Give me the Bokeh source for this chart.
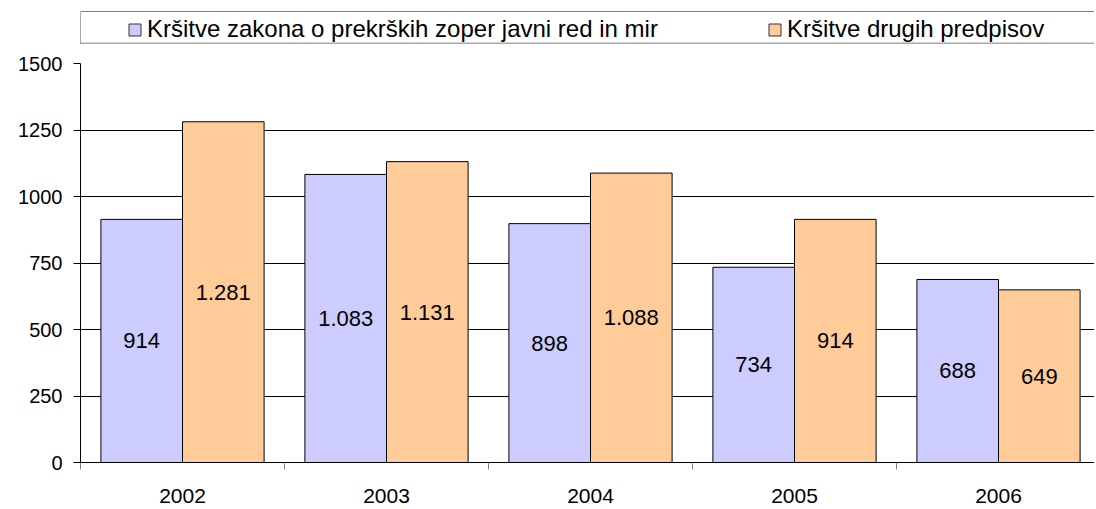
import numpy as np
from bokeh.plotting import figure
from bokeh.models import (ColumnDataSource, Range1d, FixedTicker, Legend, LegendItem, Span)
from bokeh.layouts import column
from bokeh.transform import dodge
from bokeh.core.properties import value
from bokeh.embed import file_html
from bokeh.resources import INLINE

# ---- data ----
years = ["2002", "2003", "2004", "2005", "2006"]
zakon = [914, 1083, 898, 734, 688]
drugi = [1281, 1131, 1088, 914, 649]
series_names = ["Kršitve zakona o prekrških zoper javni red in mir",
                "Kršitve drugih predpisov"]
colors = ["#CCCCFF", "#FFCC99"]
y_ticks = [0, 250, 500, 750, 1000, 1250, 1500]

FONT = "Liberation Sans"
W = 1094

def fmt(v):
    return f"{v:,}".replace(",", ".")

pos = list(np.arange(len(years)) + 0.5)
src = ColumnDataSource(dict(
    x=pos, zakon=zakon, drugi=drugi,
    zakon_mid=[v / 2 for v in zakon], drugi_mid=[v / 2 for v in drugi],
    zakon_lbl=[fmt(v) for v in zakon], drugi_lbl=[fmt(v) for v in drugi],
))

# ---- legend strip (top) ----
top = figure(width=W, height=48, output_backend="svg", toolbar_location=None,
             x_range=Range1d(0, 1), y_range=Range1d(0, 1),
             x_axis_type=None, y_axis_type=None,
             min_border_left=72, min_border_right=0, min_border_top=11, min_border_bottom=5)
top.grid.visible = False
top.outline_line_color = None
top.background_fill_color = "white"
# legend swatches only (kept outside the visible range)
hidden = ColumnDataSource(dict(x=[-5], top=[0]))
r1 = top.vbar(x="x", top="top", width=0.1, source=hidden,
              fill_color=colors[0], line_color="#333333")
r2 = top.vbar(x="x", top="top", width=0.1, source=hidden,
              fill_color=colors[1], line_color="#333333")
top.add_layout(Span(location=1, dimension="width", line_color="black", line_width=1))
top.add_layout(Span(location=0, dimension="width", line_color="#555555", line_width=1.5))
top.add_layout(Span(location=0, dimension="height", line_color="#555555", line_width=1))
legend = Legend(items=[LegendItem(label=series_names[0], renderers=[r1]),
                       LegendItem(label=series_names[1], renderers=[r2])],
                orientation="horizontal", location=(47, 0),
                border_line_color=None, background_fill_alpha=0,
                padding=0, margin=0, spacing=109,
                glyph_width=15, glyph_height=15, label_standoff=5,
                label_text_font=FONT, label_text_font_size="24px",
                label_text_color="black")
top.add_layout(legend, "center")

# ---- main chart ----
p = figure(width=W, height=457, output_backend="svg", toolbar_location=None,
           x_range=Range1d(0, (W - 80) / 204), y_range=Range1d(0, 1500),
           min_border_left=80, min_border_right=0, min_border_top=15, min_border_bottom=42)
p.outline_line_color = None
p.background_fill_color = "white"

p.vbar(x=dodge("x", -0.2), top="zakon", width=0.4, source=src,
       fill_color=colors[0], line_color="black", line_width=1)
p.vbar(x=dodge("x", 0.2), top="drugi", width=0.4, source=src,
       fill_color=colors[1], line_color="black", line_width=1)

p.text(x=dodge("x", -0.2), y="zakon_mid", text="zakon_lbl", source=src,
       text_align="center", text_baseline="middle",
       text_font=value(FONT), text_font_size=value("22px"), text_color="black")
p.text(x=dodge("x", 0.2), y="drugi_mid", text="drugi_lbl", source=src,
       text_align="center", text_baseline="middle",
       text_font=value(FONT), text_font_size=value("22px"), text_color="black")

# y axis
p.yaxis.ticker = FixedTicker(ticks=y_ticks)
p.yaxis.axis_line_color = "black"
p.yaxis.major_tick_line_color = "black"
p.yaxis.major_tick_out = 7
p.yaxis.major_tick_in = 0
p.yaxis.minor_tick_line_color = None
p.yaxis.major_label_text_font = FONT
p.yaxis.major_label_text_font_size = "20px"
p.yaxis.major_label_text_color = "black"
p.yaxis.major_label_standoff = 11

# x axis
p.xaxis.ticker = FixedTicker(ticks=pos, minor_ticks=list(range(len(years) + 1)))
p.xaxis.major_label_overrides = {float(x): y for x, y in zip(pos, years)}
p.xaxis.axis_line_color = "black"
p.xaxis.major_tick_line_color = None
p.xaxis.major_tick_out = 0
p.xaxis.major_tick_in = 0
p.xaxis.minor_tick_line_color = "#808080"
p.xaxis.minor_tick_out = 7
p.xaxis.minor_tick_in = 0
p.xaxis.major_label_text_font = FONT
p.xaxis.major_label_text_font_size = "21px"
p.xaxis.major_label_text_color = "black"
p.xaxis.major_label_standoff = 19

# grid
p.xgrid.visible = False
p.ygrid.grid_line_color = "black"
p.ygrid.grid_line_width = 1
p.ygrid.ticker = FixedTicker(ticks=y_ticks)

layout = column(top, p, spacing=0)
open("out.html", "w").write(file_html(layout, INLINE))
